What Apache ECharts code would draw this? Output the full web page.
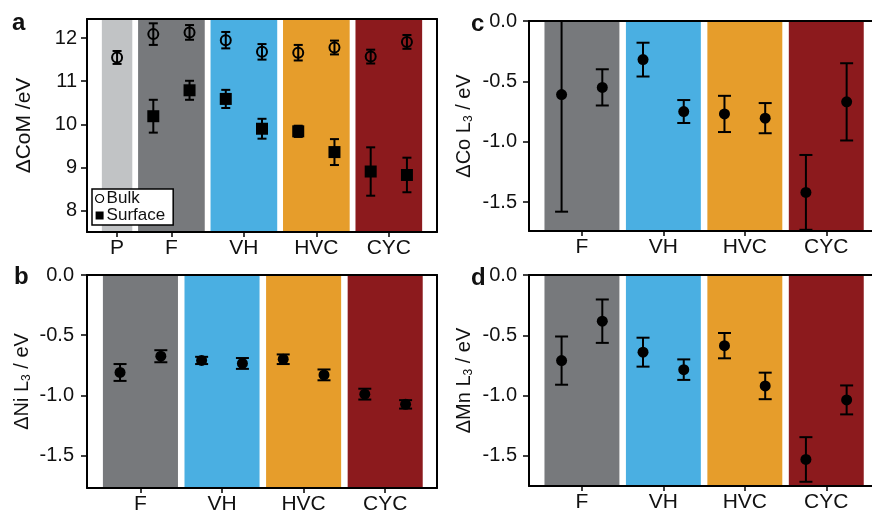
<!DOCTYPE html>
<html>
<head>
<meta charset="utf-8">
<script src="https://cdn.jsdelivr.net/npm/echarts@6/dist/echarts.min.js"></script>
<style>
  html, body { margin: 0; padding: 0; background: #fff; }
  #chart { width: 872px; height: 515px; }
</style>
</head>
<body>
<div id="chart"></div>
<script>
// panel a: centre of mass, bulk vs surface
var groupsA = ['P', 'F', 'VH', 'HVC', 'CYC'];
var pointGroupA = [0, 1, 1, 2, 2, 3, 3, 4, 4];
var bulkA = [11.55, 12.09, 12.13, 11.95, 11.68, 11.66, 11.78, 11.57, 11.91];
var bulkErrA = [0.15, 0.25, 0.17, 0.19, 0.18, 0.18, 0.16, 0.16, 0.16];
var surfA = [null, 10.19, 10.79, 10.59, 9.90, 9.84, 9.36, 8.91, 8.83];
var surfErrA = [null, 0.38, 0.22, 0.21, 0.23, 0.13, 0.30, 0.56, 0.40];
var ticksA = [8, 9, 10, 11, 12];

// panels b-d: L3 edge shifts
var groupsL = ['F', 'VH', 'HVC', 'CYC'];
var pointGroupL = [0, 0, 1, 1, 2, 2, 3, 3];
var niL3 = [-0.81, -0.675, -0.71, -0.735, -0.70, -0.83, -0.99, -1.075];
var niErr = [0.07, 0.05, 0.03, 0.045, 0.04, 0.045, 0.045, 0.035];
var coL3 = [-0.61, -0.55, -0.32, -0.75, -0.77, -0.805, -1.42, -0.67];
var coErr = [0.97, 0.15, 0.14, 0.095, 0.15, 0.125, 0.31, 0.32];
var mnL3 = [-0.71, -0.383, -0.64, -0.785, -0.586, -0.92, -1.53, -1.036];
var mnErr = [0.20, 0.18, 0.12, 0.085, 0.105, 0.11, 0.185, 0.12];
var ticksL = [0, -0.5, -1.0, -1.5];

var bandColors = { P: '#c1c3c5', F: '#77797c', VH: '#4aafe2', HVC: '#e69d2b', CYC: '#8c1a1d' };

var FONT = 'Liberation Sans, Arial, sans-serif';
var myChart = echarts.init(document.getElementById('chart'));

// group centre + band extents from the point indices
function groupInfo(groups, pointGroup) {
  return groups.map(function (g, gi) {
    var idx = [];
    pointGroup.forEach(function (p, i) { if (p === gi) idx.push(i); });
    var lo = idx[0], hi = idx[idx.length - 1];
    return { name: g, center: (lo + hi) / 2, from: lo - 0.42, to: hi + 0.42 };
  });
}

function errSeries(gi, vals, errs, cap) {
  return {
    type: 'custom',
    xAxisIndex: gi * 2, yAxisIndex: gi * 2,
    clip: true, z: 3, silent: true,
    data: vals.map(function (v, i) { return v == null ? null : [i, v, errs[i]]; }).filter(Boolean),
    renderItem: function (params, api) {
      var x = api.value(0), y = api.value(1), e = api.value(2);
      var top = api.coord([x, y + e]);
      var bot = api.coord([x, y - e]);
      var st = { stroke: '#000', lineWidth: 2 };
      return {
        type: 'group',
        children: [
          { type: 'line', shape: { x1: top[0], y1: top[1], x2: bot[0], y2: bot[1] }, style: st },
          { type: 'line', shape: { x1: top[0] - cap, y1: top[1], x2: top[0] + cap, y2: top[1] }, style: st },
          { type: 'line', shape: { x1: bot[0] - cap, y1: bot[1], x2: bot[0] + cap, y2: bot[1] }, style: st }
        ]
      };
    }
  };
}

function bandSeries(gi, info) {
  return {
    type: 'scatter', data: [], xAxisIndex: gi * 2, yAxisIndex: gi * 2, z: 1, silent: true,
    markArea: {
      silent: true,
      label: { show: false },
      data: info.map(function (g) {
        return [{ xAxis: g.from, itemStyle: { color: bandColors[g.name], opacity: 1 } }, { xAxis: g.to }];
      })
    }
  };
}

var grids = [
  { left: 87, top: 19, width: 350, height: 213, outerBoundsMode: 'none' },
  { left: 87, top: 275, width: 350, height: 213, outerBoundsMode: 'none' },
  { left: 529, top: 21, width: 349, height: 210, outerBoundsMode: 'none' },
  { left: 529, top: 275, width: 349, height: 211, outerBoundsMode: 'none' }
];
var xRanges = [[-0.83, 8.83], [-0.81, 7.77], [-0.80, 7.77], [-0.80, 7.77]];
var yRanges = [[7.51, 12.44], [-1.77, 0], [-1.74, 0], [-1.75, 0]];
var labelMargins = [10, 13, 12, 12];
var infos = [groupInfo(groupsA, pointGroupA), groupInfo(groupsL, pointGroupL),
             groupInfo(groupsL, pointGroupL), groupInfo(groupsL, pointGroupL)];
var yNames = [
  'ΔCoM /eV',
  'ΔNi L{s|3} / eV',
  'ΔCo L{s|3} / eV',
  'ΔMn L{s|3} / eV'
];
var yTicks = [ticksA, ticksL, ticksL, ticksL];

var line = { show: true, onZero: false, lineStyle: { color: '#000', width: 2 } };
var xAxes = [], yAxes = [];
grids.forEach(function (g, gi) {
  var info = infos[gi];
  var centers = info.map(function (d) { return d.center; });
  xAxes.push({
    type: 'value', gridIndex: gi, position: 'bottom', min: xRanges[gi][0], max: xRanges[gi][1], z: 10,
    axisLine: line, splitLine: { show: false },
    axisTick: { show: true, customValues: centers, length: 5, lineStyle: { color: '#000', width: 1.5 } },
    axisLabel: {
      customValues: centers, margin: 6, color: '#111', fontSize: 21, fontFamily: FONT,
      formatter: function (v) {
        for (var i = 0; i < info.length; i++) if (Math.abs(info[i].center - v) < 1e-6) return info[i].name;
        return '';
      }
    }
  });
  xAxes.push({
    type: 'value', gridIndex: gi, position: 'top', min: xRanges[gi][0], max: xRanges[gi][1], z: 10,
    axisLine: line, axisTick: { show: false }, axisLabel: { show: false }, splitLine: { show: false }
  });
  yAxes.push({
    type: 'value', gridIndex: gi, position: 'left', min: yRanges[gi][0], max: yRanges[gi][1], z: 10,
    axisLine: line, splitLine: { show: false },
    axisTick: { show: true, customValues: yTicks[gi], length: 6, lineStyle: { color: '#000', width: 1.5 } },
    axisLabel: {
      customValues: yTicks[gi], margin: labelMargins[gi], color: '#111', fontSize: 20, fontFamily: FONT,
      formatter: function (v) { return gi === 0 ? String(v) : v.toFixed(1); }
    },
    name: yNames[gi], nameLocation: 'middle', nameGap: gi === 0 ? 52 : 54,
    nameTextStyle: {
      color: '#111', fontSize: gi === 0 ? 21 : 20, fontFamily: FONT,
      rich: { s: { fontSize: 12, fontFamily: FONT, color: '#111', padding: [10, 0, 0, 0] } }
    }
  });
  yAxes.push({
    type: 'value', gridIndex: gi, position: 'right', min: yRanges[gi][0], max: yRanges[gi][1], z: 10,
    axisLine: line, axisTick: { show: false }, axisLabel: { show: false }, splitLine: { show: false }
  });
});

function dotSeries(gi, vals, name, symbol, size, open) {
  return {
    name: name, type: 'scatter', xAxisIndex: gi * 2, yAxisIndex: gi * 2, z: 4,
    symbol: symbol, symbolSize: size,
    itemStyle: open ? { color: 'transparent', borderColor: '#000', borderWidth: 2, opacity: 1 }
                    : { color: '#000', opacity: 1 },
    data: vals.map(function (v, i) { return v == null ? null : [i, v]; }).filter(Boolean)
  };
}

var series = [];
infos.forEach(function (info, gi) { series.push(bandSeries(gi, info)); });
series.push(errSeries(0, bulkA, bulkErrA, 4.5));
series.push(errSeries(0, surfA, surfErrA, 4.5));
series.push(dotSeries(0, bulkA, 'Bulk', 'circle', 10, true));
series.push(dotSeries(0, surfA, 'Surface', 'rect', 12, false));
[[niL3, niErr], [coL3, coErr], [mnL3, mnErr]].forEach(function (d, k) {
  series.push(errSeries(k + 1, d[0], d[1], 6.5));
  series.push(dotSeries(k + 1, d[0], null, 'circle', 11, false));
});

var letters = [['a', 12, 11], ['b', 14, 265], ['c', 471, 12], ['d', 471, 266]];

var option = {
  animation: false,
  backgroundColor: '#fff',
  grid: grids,
  xAxis: xAxes,
  yAxis: yAxes,
  legend: {
    data: [
      { name: 'Bulk', icon: 'circle', itemStyle: { color: 'transparent', borderColor: '#000', borderWidth: 1.2 } },
      { name: 'Surface', icon: 'rect' }
    ],
    orient: 'vertical', left: 92, top: 189, itemGap: 0, itemWidth: 8, itemHeight: 8,
    padding: [1, 8, 1, 3], backgroundColor: '#fff', borderColor: '#000', borderWidth: 1.5,
    borderRadius: 0, selectedMode: false, z: 12,
    textStyle: { fontSize: 17, fontFamily: FONT, color: '#111', padding: [0, 0, 0, -2] }
  },
  graphic: letters.map(function (l) {
    return {
      type: 'text', left: l[1], top: l[2], z: 20,
      style: { text: l[0], font: 'bold 24px ' + FONT, fill: '#111' }
    };
  }),
  series: series
};

myChart.setOption(option);
</script>
</body>
</html>
